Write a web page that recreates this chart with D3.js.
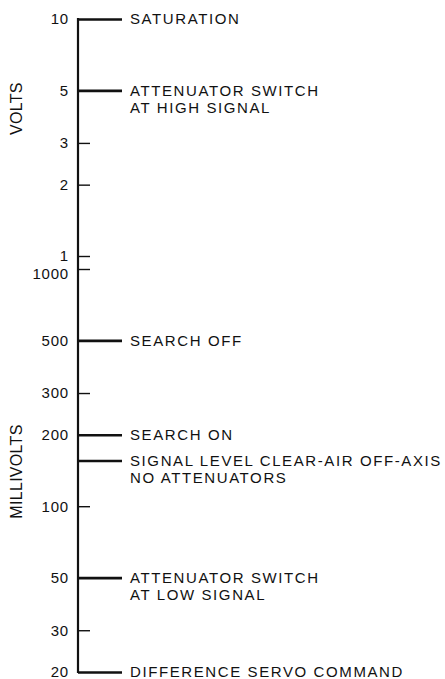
<!DOCTYPE html>
<html>
<head>
<meta charset="utf-8">
<script src="https://cdn.jsdelivr.net/npm/d3@7"></script>
<style>
  html, body { margin: 0; padding: 0; background: #fff; }
  svg text { font-family: "Liberation Sans", Arial, Helvetica, sans-serif; fill: #111; }
</style>
</head>
<body>
<svg id="chart" width="445" height="679"></svg>
<script>
// ---- data ----
const voltTickValues = [10, 5, 3, 2, 1];
const mvTickValues = [1000, 500, 300, 200, 100, 50, 30, 20];
const eventValues = [10, 5, 500, 200, 155, 50, 20];
const eventUnits = ["V", "V", "mV", "mV", "mV", "mV", "mV"];
const eventLabels = [
  ["SATURATION"],
  ["ATTENUATOR SWITCH", "AT HIGH SIGNAL"],
  ["SEARCH OFF"],
  ["SEARCH ON"],
  ["SIGNAL LEVEL CLEAR-AIR OFF-AXIS", "NO ATTENUATORS"],
  ["ATTENUATOR SWITCH", "AT LOW SIGNAL"],
  ["DIFFERENCE SERVO COMMAND"]
];
const unitTitles = ["VOLTS", "MILLIVOLTS"];

// ---- layout ----
const svg = d3.select("#chart");
const axisX = 78;
const voltScale = d3.scaleLog().domain([1, 10]).range([256, 19]);
const mvScale = d3.scaleLog().domain([20, 1000]).range([672, 269]);
const scaleFor = u => (u === "V" ? voltScale : mvScale);

const shortTick = 12, longTick = 44, textGap = 8;

function drawAxis(scale, values, unit) {
  const g = svg.append("g").attr("transform", `translate(${axisX},0)`);
  g.call(d3.axisLeft(scale)
      .tickValues(values)
      .tickFormat(d3.format("d"))
      .tickSizeInner(-shortTick)
      .tickSizeOuter(0)
      .tickPadding(9));
  g.select(".domain").remove();
  g.selectAll(".tick line").attr("stroke", "#111").attr("stroke-width", 1.4);
  g.selectAll(".tick text")
    .attr("font-size", 15)
    .attr("fill", "#111")
    .style("letter-spacing", "0.8px")
    .style("font-family", '"Liberation Sans", Arial, sans-serif');
  // lengthen ticks of annotated events
  g.selectAll(".tick").each(function(d) {
    const isEvent = eventValues.some((v, i) => v === d && eventUnits[i] === unit);
    if (isEvent) d3.select(this).select("line").attr("x2", longTick).attr("stroke-width", 2.6);
  });
  return g;
}
drawAxis(voltScale, voltTickValues, "V");
const mvAxis = drawAxis(mvScale, mvTickValues, "mV");
// the 1000 mV label sits a little below its tick so it clears the 1 V label
mvAxis.selectAll(".tick text").filter(d => d === 1000).attr("dy", "0.62em");

// main axis line
svg.append("line")
  .attr("x1", axisX).attr("x2", axisX)
  .attr("y1", voltScale(10) - 1).attr("y2", mvScale(20) + 1)
  .attr("stroke", "#111").attr("stroke-width", 2.2);

// event ticks not already among labeled ticks + annotation texts
eventValues.forEach((v, i) => {
  const s = scaleFor(eventUnits[i]);
  const y = s(v);
  const ticks = eventUnits[i] === "V" ? voltTickValues : mvTickValues;
  if (!ticks.includes(v)) {
    svg.append("line")
      .attr("x1", axisX).attr("x2", axisX + longTick)
      .attr("y1", y).attr("y2", y)
      .attr("stroke", "#111").attr("stroke-width", 2.6);
  }
  const t = svg.append("text")
    .attr("x", axisX + longTick + textGap)
    .attr("y", y)
    .attr("font-size", 15)
    .style("letter-spacing", "1.6px");
  eventLabels[i].forEach((line, j) => {
    t.append("tspan")
      .attr("x", axisX + longTick + textGap)
      .attr("dy", j === 0 ? "0.36em" : 17)
      .text(line);
  });
});

// unit titles
const titleY = [ (voltScale(5) + voltScale(3)) / 2 - 8, (mvScale(200) + mvScale(100)) / 2 + 1 ];
unitTitles.forEach((txt, i) => {
  svg.append("text")
    .attr("transform", `translate(22,${titleY[i]}) rotate(-90)`)
    .attr("text-anchor", "middle")
    .attr("font-size", 16)
    .style("letter-spacing", "0.3px")
    .text(txt);
});
</script>
</body>
</html>
